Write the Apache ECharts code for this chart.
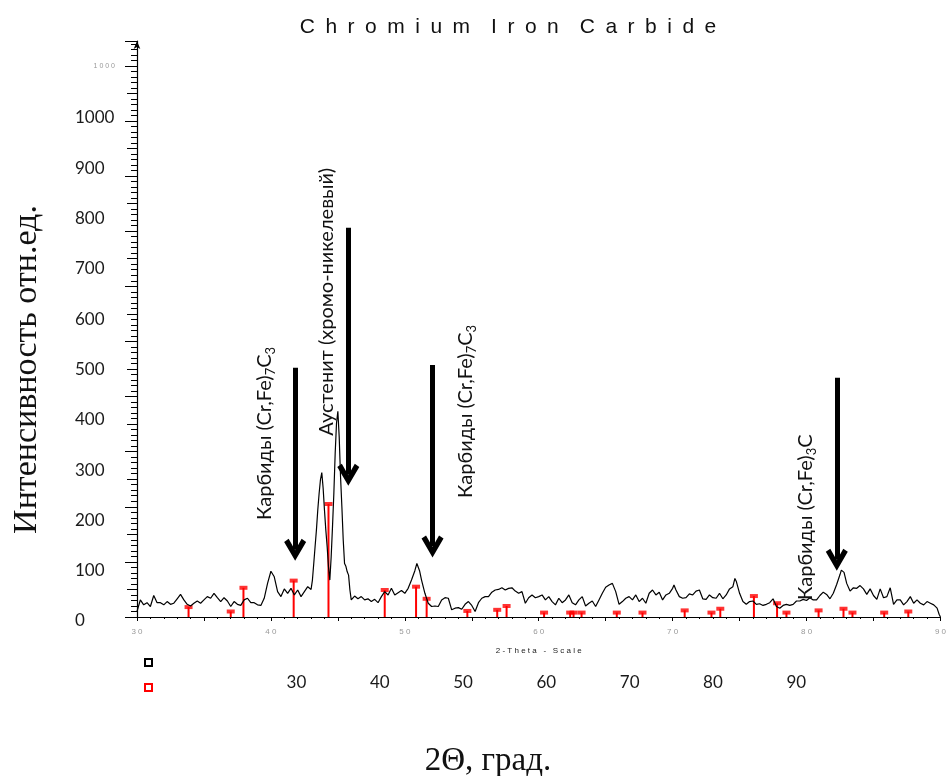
<!DOCTYPE html>
<html lang="ru">
<head>
    <meta charset="UTF-8">
    <title>Chromium Iron Carbide</title>
    <script src="https://cdn.jsdelivr.net/npm/echarts@6/dist/echarts.min.js"></script>
</head>
<body style="margin:0;background:#fff;">
    <div id="main" style="width:949px;height:776px;"></div>

    <script>
        // XRD pattern: [2theta, intensity]
        const pattern = [
            [30.0,10],[30.25,31],[30.5,22],[30.75,26],[31.0,19],[31.25,39],[31.5,26],[31.75,26],
            [32.0,22],[32.25,28],[32.5,23],[32.75,25],[33.0,33],[33.25,41],[33.5,31],[33.75,23],
            [34.0,20],[34.25,25],[34.5,29],[34.75,25],[35.0,31],[35.25,37],[35.5,34],[35.75,43],
            [36.0,35],[36.25,28],[36.5,35],[36.75,29],[37.0,19],[37.25,28],[37.5,23],[37.75,21],
            [38.0,31],[38.25,34],[38.5,26],[38.75,26],[39.0,22],[39.25,21],[39.5,34],[39.75,61],
            [40.0,83],[40.25,73],[40.5,46],[40.75,37],[41.0,51],[41.25,43],[41.5,52],[41.75,40],
            [42.0,49],[42.25,37],[42.5,46],[42.75,55],[43.0,50],[43.1,67],[43.2,97],[43.3,128],
            [43.4,158],[43.5,194],[43.6,224],[43.7,249],[43.8,262],[43.9,234],[44.0,194],[44.1,158],
            [44.2,128],[44.3,91],[44.4,67],[44.5,109],[44.6,164],[44.7,224],[44.8,297],[44.9,352],
            [45.0,373],[45.1,327],[45.2,255],[45.3,200],[45.4,140],[45.5,97],[45.6,92],[45.7,82],
            [45.8,76],[45.9,49],[46.0,31],[46.25,38],[46.5,33],[46.75,37],[47.0,31],[47.25,33],
            [47.5,28],[47.75,32],[48.0,26],[48.25,37],[48.5,46],[48.75,40],[49.0,52],[49.25,40],
            [49.5,44],[49.75,48],[50.0,43],[50.25,52],[50.5,67],[50.75,84],[50.9,97],[51.0,96],
            [51.1,84],[51.25,67],[51.5,43],[51.75,25],[52.0,19],[52.25,20],[52.5,19],[52.75,31],
            [53.0,35],[53.25,34],[53.5,13],[53.75,16],[54.0,17],[54.25,14],[54.5,23],[54.75,28],
            [55.0,21],[55.25,10],[55.5,26],[55.75,34],[56.0,37],[56.25,37],[56.5,45],[56.75,49],
            [57.0,50],[57.25,53],[57.5,49],[57.75,52],[58.0,53],[58.25,47],[58.5,43],[58.75,46],
            [59.0,25],[59.25,35],[59.5,40],[59.75,35],[60.0,37],[60.25,40],[60.5,31],[60.75,37],
            [61.0,28],[61.25,22],[61.5,34],[61.75,26],[62.0,31],[62.25,40],[62.5,26],[62.75,22],
            [63.0,31],[63.25,37],[63.5,20],[63.75,25],[64.0,29],[64.25,19],[64.5,31],[64.75,43],
            [65.0,54],[65.25,58],[65.5,61],[65.75,46],[66.0,23],[66.25,28],[66.5,34],[66.75,37],
            [67.0,31],[67.25,40],[67.5,28],[67.75,34],[68.0,25],[68.25,43],[68.5,49],[68.75,40],
            [69.0,45],[69.25,31],[69.5,40],[69.75,43],[70.0,52],[70.1,58],[70.25,49],[70.5,37],
            [70.75,34],[71.0,35],[71.25,42],[71.5,40],[71.75,47],[72.0,49],[72.25,33],[72.5,32],
            [72.75,40],[73.0,35],[73.25,34],[73.5,43],[73.75,33],[74.0,40],[74.25,51],[74.5,55],
            [74.65,70],[74.75,65],[75.0,43],[75.25,28],[75.5,23],[75.75,28],[76.0,29],[76.25,23],
            [76.5,24],[76.75,21],[77.0,23],[77.25,26],[77.5,33],[77.75,19],[78.0,16],[78.25,21],
            [78.5,23],[78.75,21],[79.0,23],[79.25,29],[79.5,29],[79.75,32],[80.0,30],[80.25,35],
            [80.5,31],[80.75,31],[81.0,39],[81.25,45],[81.5,41],[81.75,33],[82.0,43],[82.25,59],
            [82.5,77],[82.6,85],[82.7,88],[82.8,81],[83.0,61],[83.25,47],[83.5,53],[83.75,52],
            [84.0,57],[84.25,51],[84.5,41],[84.75,51],[85.0,39],[85.25,32],[85.5,51],[85.75,35],
            [86.0,37],[86.25,53],[86.5,23],[86.75,31],[87.0,31],[87.25,22],[87.5,28],[87.75,37],
            [88.0,25],[88.25,31],[88.5,25],[88.75,22],[89.0,28],[89.25,25],[89.5,22],[89.75,16],
            [89.9,5],[90.0,0]
        ];

        // reference card sticks (red)
        const cardLines = [
            [33.85,18],[37.0,10],[37.95,53],[41.7,66],[44.3,205],[48.5,49],[50.84,55],[51.63,33],
            [54.67,11],[56.9,13],[57.6,20],[60.4,8],[62.35,8],[62.6,8],[63.2,8],[65.83,8],
            [67.75,8],[70.9,12],[72.9,8],[73.56,15],[76.07,38],[77.8,25],[78.5,8],[80.9,12],
            [82.76,15],[83.43,8],[85.8,8],[87.6,10]
        ];

        // arrows: [2theta, top intensity, head intensity]
        const arrows = [
            [41.81, 452, 122],
            [45.78, 706, 258],
            [52.07, 457, 128],
            [82.26, 434, 104]
        ];

        // rotated phase labels: [text, 2theta, intensity]
        const phaseLabels = [
            ['{t|Карбиды (Cr,Fe)}{s|7}{t|C}{s|3}', 39.56, 333],
            ['{t|Аустенит (хромо-никелевый)}', 44.19, 572],
            ['{t|Карбиды (Cr,Fe)}{s|7}{t|C}{s|3}', 54.52, 373],
            ['{t|Карбиды (Cr,Fe)}{s|3}{t|C}', 79.93, 181]
        ];

        const overlayXLabels = [30, 40, 50, 60, 70, 80, 90];

        const spaced = s => String(s).split('').join(' ');
        const chevron = 'path://M11,0 L22,18 L17.5,21 L11,10 L4.5,21 L0,18 Z';
        const sp = '\u2002';
        const titleText = ['Chromium', 'Iron', 'Carbide']
            .map(w => w.split('').join(sp)).join(sp + sp);

        const option = {
            animation: false,
            title: [
                {
                    text: titleText,
                    left: 503, top: 12, textAlign: 'center',
                    textStyle: {fontFamily: 'Liberation Sans', fontSize: 21, fontWeight: 'normal', color: '#111'}
                },
                {
                    text: '2Θ, град.',
                    left: 483, top: 740, textAlign: 'center',
                    textStyle: {fontFamily: 'Liberation Serif', fontSize: 33, fontWeight: 'normal', color: '#111'}
                }
            ],
            legend: {
                orient: 'vertical', left: 139, top: 653, itemGap: 16,
                itemWidth: 7, itemHeight: 7, formatter: () => '',
                data: [{name: 'pattern', icon: 'emptyRect'}, {name: 'card', icon: 'emptyRect'}],
                selectedMode: false
            },
            grid: [
                {left: 137, right: 3, top: 41, bottom: 159},
                {left: 130, width: 10, top: 118, bottom: 155},
                {left: 46.5, right: 69.4, top: 600, height: 68}
            ],
            xAxis: [
                {
                    type: 'value', gridIndex: 0, min: 30, max: 90, interval: 5,
                    name: '2 - T h e t a   -   S c a l e', nameLocation: 'middle', nameGap: 30,
                    nameTextStyle: {fontSize: 8, color: '#222', fontFamily: 'Liberation Sans'},
                    axisLine: {lineStyle: {color: '#000', width: 1.2}},
                    axisTick: {length: 4, lineStyle: {color: '#000'}},
                    minorTick: {show: true, splitNumber: 5, length: 2, lineStyle: {color: '#000'}},
                    splitLine: {show: false},
                    axisLabel: {
                        fontSize: 8, color: '#999', margin: 11, showMaxLabel: true,
                        formatter: v => (v % 10 === 0 ? spaced(v) : '')
                    }
                },
                {type: 'value', gridIndex: 1, show: false},
                {
                    type: 'value', gridIndex: 2, min: 0, max: 100, interval: 10,
                    axisLine: {show: false}, axisTick: {show: false}, splitLine: {show: false},
                    axisLabel: {
                        margin: 6, fontFamily: 'Lato', fontSize: 17, color: '#1a1a1a',
                        formatter: v => (overlayXLabels.indexOf(v) >= 0 ? String(v) : '')
                    }
                }
            ],
            yAxis: [
                {
                    type: 'value', gridIndex: 0, min: 0, max: 1045, interval: 100,
                    axisLine: {show: true, symbol: ['none', 'arrow'], symbolSize: [5, 8],
                        lineStyle: {color: '#000', width: 1.2}},
                    axisTick: {show: true, length: 12, lineStyle: {color: '#000'}},
                    minorTick: {show: true, splitNumber: 10, length: 6, lineStyle: {color: '#000'}},
                    splitLine: {show: false},
                    axisLabel: {
                        fontSize: 7, color: '#999', margin: 22,
                        formatter: v => (v === 1000 ? spaced(v) : '')
                    }
                },
                {
                    type: 'value', gridIndex: 0, position: 'left', min: 0, max: 1045, interval: 50,
                    axisLine: {show: false},
                    axisTick: {show: true, length: 10, lineStyle: {color: '#000'}},
                    axisLabel: {show: false}, splitLine: {show: false}
                },
                {
                    type: 'value', gridIndex: 1, min: 0, max: 1000, interval: 100,
                    name: 'Интенсивность отн.ед.', nameLocation: 'middle', nameGap: 86,
                    nameTextStyle: {fontFamily: 'Liberation Serif', fontSize: 34, color: '#111'},
                    axisLine: {show: false}, axisTick: {show: false}, splitLine: {show: false},
                    axisLabel: {align: 'left', margin: 55, fontFamily: 'Lato', fontSize: 17, color: '#1a1a1a',
                        formatter: v => String(v)}
                },
                {type: 'value', gridIndex: 2, show: false}
            ],
            series: [
                {
                    name: 'card', type: 'bar', xAxisIndex: 0, yAxisIndex: 0,
                    barWidth: 2, itemStyle: {color: '#ff0000'},
                    data: cardLines
                },
                {
                    name: 'card', type: 'scatter', xAxisIndex: 0, yAxisIndex: 0,
                    symbol: 'rect', symbolSize: [8, 4], itemStyle: {color: '#ff0000'},
                    data: cardLines
                },
                {
                    name: 'pattern', type: 'line', xAxisIndex: 0, yAxisIndex: 0,
                    showSymbol: false, symbol: 'none',
                    lineStyle: {color: '#000', width: 1.2}, itemStyle: {color: '#000'},
                    data: pattern,
                    markLine: {
                        silent: true, animation: false,
                        symbol: ['none', chevron], symbolSize: [22, 22],
                        label: {show: false},
                        lineStyle: {color: '#000', width: 5, type: 'solid'},
                        data: arrows.map(a => [{coord: [a[0], a[1]]}, {coord: [a[0], a[2]]}])
                    }
                }
            ]
        };

        var myChart = echarts.init(document.getElementById('main'));
        myChart.setOption(option);

        // labels placed through the plot's own axes
        const graphics = phaseLabels.map(l => {
            const p = myChart.convertToPixel({gridIndex: 0}, [l[1], l[2]]);
            return {
                type: 'text', x: p[0], y: p[1], rotation: Math.PI / 2, z: 100,
                style: {
                    text: l[0], align: 'center', verticalAlign: 'middle',
                    rich: {
                        t: {fontFamily: 'Lato', fontSize: 20, fill: '#111', lineHeight: 25},
                        s: {fontFamily: 'Lato', fontSize: 13, fill: '#111', verticalAlign: 'bottom', lineHeight: 16}
                    }
                }
            };
        });
        myChart.setOption({graphic: graphics});
    </script>
</body>
</html>
